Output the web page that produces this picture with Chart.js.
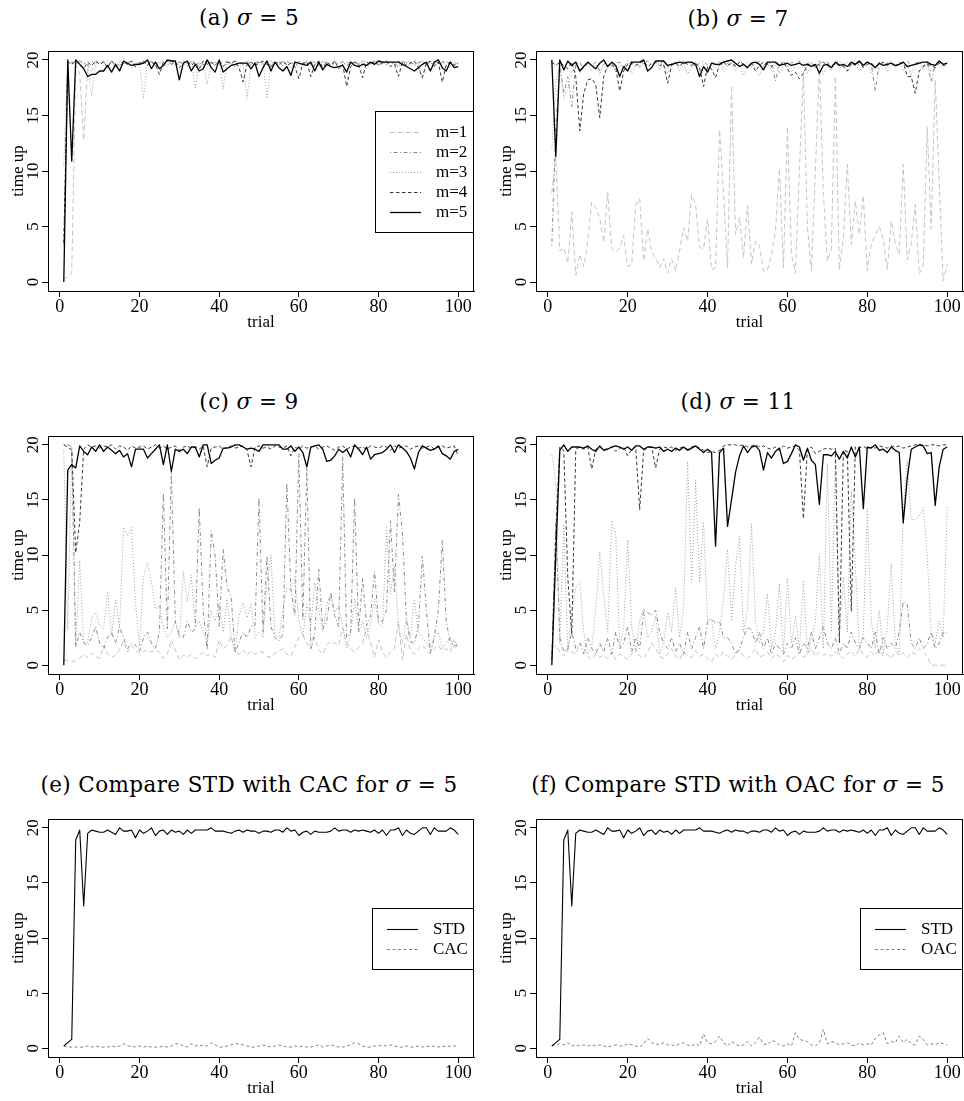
<!DOCTYPE html>
<html><head><meta charset="utf-8">
<script src="https://cdn.jsdelivr.net/npm/chart.js@4"></script>
<style>
html,body{margin:0;padding:0;background:#fff;width:964px;height:1101px;overflow:hidden;position:relative;}
canvas{position:absolute;}
.ttl{position:absolute;font-family:"DejaVu Serif",serif;font-size:21.5px;letter-spacing:0.4px;color:#000;white-space:nowrap;transform:translate(-50%,-50%);line-height:1;}
.ttl i{font-style:italic;}
</style></head><body>
<div class="ttl" style="left:249px;top:18px">(a) <i>σ</i> = 5</div>
<div class="ttl" style="left:738px;top:19px">(b) <i>σ</i> = 7</div>
<div class="ttl" style="left:249px;top:402px">(c) <i>σ</i> = 9</div>
<div class="ttl" style="left:738px;top:402px">(d) <i>σ</i> = 11</div>
<div class="ttl" style="left:249px;top:785px">(e) Compare STD with CAC for <i>σ</i> = 5</div>
<div class="ttl" style="left:738px;top:785px">(f) Compare STD with OAC for <i>σ</i> = 5</div>
<canvas id="ca" width="482" height="305" style="left:0;top:30px"></canvas>
<canvas id="cb" width="482" height="305" style="left:482px;top:30px"></canvas>
<canvas id="cc" width="482" height="303" style="left:0;top:415px"></canvas>
<canvas id="cd" width="482" height="303" style="left:482px;top:415px"></canvas>
<canvas id="ce" width="482" height="303" style="left:0;top:798px"></canvas>
<canvas id="cf" width="482" height="303" style="left:482px;top:798px"></canvas>
<script>
// ---------- data ----------
const trials = Array.from({length:100},(_,i)=>i+1);
const xTicks = [0,20,40,60,80,100];
const yTicks = [0,5,10,15,20];
const mLabels = ['m=1','m=2','m=3','m=4','m=5'];

// (a) sigma = 5
const a_m1 = [0.2,0.5,0.8,19.5,18.8,12.8,19.6,19.0,19.8,19.7,
 19.9,19.6,19.8,19.5,19.9,19.7,19.8,19.9,19.6,19.8,
 19.7,19.9,19.8,19.6,19.9,19.8,19.7,19.9,19.6,19.8,
 19.9,19.7,19.8,19.9,19.6,19.8,19.9,19.7,19.8,19.6,
 19.9,19.8,19.7,19.9,19.8,19.6,19.9,19.7,19.8,19.9,
 19.7,19.8,19.9,19.6,19.8,19.9,19.7,19.8,19.6,19.9,
 19.8,19.7,19.9,19.8,19.6,19.9,19.7,19.8,19.9,19.7,
 19.8,19.6,19.9,19.8,19.7,19.9,19.8,19.6,19.9,19.8,
 19.7,19.9,19.8,19.6,19.9,19.7,19.8,19.9,19.6,19.8,
 19.9,19.7,19.8,19.9,19.6,19.8,19.9,19.7,19.8,19.6];
const a_m2 = [3.3,19.5,19.8,19.6,19.9,19.7,19.5,19.8,19.9,19.6,
 19.8,19.4,19.9,19.7,19.5,19.8,19.6,19.9,19.3,19.7,
 19.8,19.6,19.9,19.4,19.7,19.8,19.5,19.9,19.6,19.8,
 19.7,19.4,19.9,19.6,19.8,19.5,19.9,19.7,19.6,19.8,
 19.5,19.9,19.7,19.4,19.8,19.6,19.9,19.5,19.7,19.8,
 19.6,19.9,19.4,19.7,19.8,19.5,19.9,19.6,19.8,19.3,
 19.7,19.9,19.6,19.8,19.5,19.9,19.7,19.4,19.8,19.6,
 19.9,19.5,19.7,19.8,19.6,19.9,19.4,19.7,19.8,19.5,
 19.9,19.6,19.8,19.7,19.4,19.9,19.6,19.8,19.5,19.7,
 19.9,19.6,19.8,19.4,19.7,19.9,19.5,19.8,19.6,19.7];
const a_m3 = [10.5,19.9,19.7,19.9,19.5,19.8,19.6,16.7,19.6,19.8,
 19.5,19.9,19.7,19.4,19.8,19.6,19.9,19.3,19.7,19.8,
 16.5,19.7,19.9,19.5,19.8,19.6,19.4,19.9,19.7,19.5,
 19.8,19.6,19.9,17.4,19.6,19.8,17.8,19.7,19.5,19.9,
 17.4,19.8,19.6,19.9,19.4,19.7,16.5,19.6,19.8,19.5,
 19.9,16.5,19.7,19.8,19.5,19.9,19.6,19.3,19.8,19.7,
 19.5,19.9,19.6,19.8,19.3,19.7,19.9,19.5,19.8,19.6,
 19.4,19.8,19.7,19.9,19.5,19.8,19.2,19.7,19.9,19.6,
 19.8,19.5,19.9,19.6,19.3,19.8,19.7,19.4,19.9,19.6,
 18.3,19.7,19.9,19.5,19.8,19.6,19.9,19.4,19.7,19.8];
const a_m4 = [3.5,19.8,19.6,19.9,19.7,19.2,19.8,19.5,19.9,19.6,
 19.8,19.3,19.9,19.5,19.0,19.8,19.6,19.9,19.4,19.7,
 19.9,19.5,19.8,19.6,18.7,19.8,19.9,19.6,19.8,19.3,
 19.7,19.9,19.5,19.8,19.2,19.9,19.6,19.8,19.5,19.9,
 19.4,19.8,19.7,19.9,19.3,18.0,19.6,19.8,19.5,19.7,
 19.9,19.6,19.4,19.8,19.6,19.9,19.5,19.7,19.4,18.3,
 19.7,19.8,18.5,19.6,19.9,19.3,19.8,19.5,19.9,19.2,
 19.6,17.6,19.4,19.8,19.5,18.4,19.8,19.6,19.9,19.5,
 19.7,19.9,19.4,19.6,18.5,19.8,19.5,19.7,19.9,19.3,
 18.4,19.7,19.9,19.5,19.8,18.0,19.6,19.8,19.5,19.7];
const a_m5 = [0,20,10.9,20,19.6,19.2,18.5,18.7,18.7,19.0,
 19.0,19.5,18.9,19.6,19.0,19.9,19.7,19.5,19.6,19.6,
 19.7,20.0,19.2,19.8,19.2,19.5,20.0,19.9,19.9,18.2,
 19.7,19.9,19.0,19.6,19.0,19.2,20.0,19.3,18.9,20.0,
 18.9,19.2,19.5,19.6,19.7,19.7,19.7,19.2,19.7,18.5,
 19.3,19.9,19.0,19.8,19.3,19.0,19.4,18.6,19.8,19.7,
 19.6,19.5,19.8,19.0,19.8,19.1,19.6,19.4,19.3,19.4,
 19.5,18.9,19.8,19.5,19.4,19.6,19.5,19.8,19.6,19.9,
 19.8,19.8,19.8,19.8,19.8,19.6,19.4,19.2,19.0,19.3,
 19.6,19.8,19.0,19.8,20.0,19.3,19.0,19.8,19.3,19.4];

// (b) sigma = 7
const b_m1 = [8.0,11.2,2.8,3.1,1.7,6.3,0.6,2.5,1.4,3.7,
 7.2,6.7,5.8,3.6,8.1,3.0,2.7,3.1,4.2,1.4,
 1.6,6.9,7.5,1.9,4.8,2.7,2.2,1.3,2.1,0.8,
 2.1,1.0,2.8,4.9,3.7,7.8,7.0,3.1,3.0,5.7,
 1.1,1.3,13.7,8.0,1.3,17.7,4.3,5.8,2.2,6.9,
 1.6,3.7,3.3,1.0,1.1,2.5,4.6,10.2,1.3,14.0,
 2.5,0.8,10.0,19.0,5.0,1.0,10.0,19.5,8.0,1.9,
 3.0,18.5,1.1,4.0,10.6,3.4,7.3,4.3,7.8,1.0,
 3.5,4.2,5.0,3.8,1.1,5.5,3.5,2.5,10.6,2.0,
 3.5,7.0,0.7,1.5,14.0,4.8,18.2,9.0,0.1,1.6];
const b_m2 = [3.3,14.0,19.5,17.0,18.5,15.8,19.6,19.8,19.2,19.7,
 19.5,19.8,19.0,19.6,19.9,19.4,19.7,19.8,19.3,19.9,
 19.6,19.8,19.4,19.7,19.9,19.5,19.8,19.6,19.9,19.3,
 19.7,19.8,19.5,19.9,19.6,19.8,19.4,19.7,19.9,19.5,
 19.8,19.6,19.9,19.3,19.7,19.8,19.5,19.9,19.6,19.8,
 19.4,19.7,19.9,19.5,19.8,19.6,18.1,19.7,19.9,19.4,
 19.8,19.6,19.9,19.5,19.7,19.8,19.3,19.9,19.6,19.8,
 19.5,19.7,19.9,19.4,19.8,19.6,19.9,19.5,19.7,19.8,
 19.6,17.2,19.8,19.5,19.7,19.9,19.4,19.8,19.6,19.9,
 19.5,19.7,19.8,19.4,19.9,18.0,19.6,19.8,19.5,19.7];
const b_m3 = [12.0,18.0,19.5,16.5,17.5,19.0,19.6,18.8,19.4,19.7,
 19.0,19.5,18.7,19.6,19.2,19.8,18.9,19.5,19.3,19.7,
 18.8,19.6,19.2,19.8,18.9,19.4,19.7,19.1,19.6,18.8,
 19.5,19.8,19.0,19.6,18.7,19.4,19.8,19.2,19.6,18.9,
 19.7,19.3,19.8,18.9,19.5,19.7,19.0,19.6,18.6,19.4,
 19.8,19.1,18.6,19.5,19.7,19.0,19.6,18.8,19.4,19.7,
 18.9,19.5,19.2,19.8,18.8,19.6,19.3,19.7,18.7,19.5,
 19.0,19.8,19.2,19.6,18.9,19.5,19.7,19.0,19.4,19.8,
 18.8,19.5,19.2,19.7,18.9,19.6,19.3,19.8,19.0,19.5,
 18.7,19.4,19.7,19.1,19.6,18.9,19.5,19.7,19.2,19.6];
const b_m4 = [19.8,19.5,19.8,19.5,19.2,19.8,18.5,13.6,17.0,18.2,
 18.3,17.8,14.8,18.5,19.5,19.6,19.3,17.2,19.0,19.6,
 19.8,19.5,19.7,19.9,19.4,19.7,19.8,19.5,19.6,17.9,
 19.5,19.7,19.4,19.8,19.6,19.5,19.7,19.3,17.6,19.4,
 19.2,18.4,19.6,19.8,19.5,19.7,19.4,19.8,19.6,19.3,
 19.7,19.0,19.5,19.8,19.6,19.4,19.7,19.5,19.8,19.2,
 18.6,18.9,18.3,18.8,19.5,19.7,19.4,19.6,19.8,19.5,
 19.3,19.7,19.6,19.4,19.0,19.7,19.5,19.8,19.3,19.6,
 19.7,19.4,19.6,19.8,19.5,19.7,19.4,19.6,19.8,18.5,
 18.5,17.0,19.0,19.4,19.6,19.5,19.3,19.7,19.5,19.6];
const b_m5 = [20.0,11.3,20.0,19.1,19.9,19.5,19.8,19.0,19.4,19.8,
 19.5,19.2,19.7,20.0,19.4,19.8,19.5,18.5,19.4,19.0,
 19.8,19.8,19.8,20.0,19.0,19.3,19.9,19.9,19.9,19.5,
 19.6,19.7,19.8,19.7,19.8,19.8,19.6,18.5,19.4,18.9,
 19.7,19.6,19.6,19.8,19.9,20.0,19.7,19.4,19.6,19.3,
 19.7,19.8,19.6,19.1,19.8,19.8,19.8,19.5,19.6,19.7,
 19.5,19.6,19.7,19.5,19.6,19.4,19.6,18.8,19.5,19.6,
 19.3,19.8,19.5,19.6,19.4,19.8,19.6,19.9,19.5,19.8,
 19.6,19.3,19.7,19.5,19.6,19.7,19.5,19.6,19.8,19.4,
 19.5,19.6,19.7,19.8,19.8,19.6,19.5,19.9,19.6,19.7];

// (c) sigma = 9
const c_m1 = [0.5,0.4,0.3,0.4,0.6,1.0,0.7,1.1,0.8,0.6,
 1.8,1.0,0.7,0.9,1.4,2.2,1.2,1.8,1.4,1.0,
 1.3,1.3,1.2,1.4,1.2,0.6,1.0,2.3,1.4,0.5,
 0.9,0.7,1.0,0.6,0.9,1.2,0.9,1.0,0.7,2.3,
 1.5,1.8,2.6,1.2,1.0,1.4,0.9,1.3,1.0,1.2,
 1.2,0.8,0.7,1.1,1.3,1.5,1.0,0.8,1.7,2.5,
 2.7,2.0,1.5,2.5,1.4,1.0,1.8,2.2,2.0,1.8,
 3.4,2.0,1.5,1.2,1.6,2.0,3.4,2.0,0.7,2.3,
 1.2,0.7,1.2,1.5,4.0,0.5,2.8,1.3,1.0,1.5,
 1.8,1.4,1.0,1.5,1.8,1.3,1.5,1.2,2.4,1.5];
const c_m2 = [20.0,20.0,19.8,1.7,3.0,2.0,1.8,2.5,3.5,2.0,
 1.5,2.5,3.0,2.0,3.5,2.5,1.5,2.0,1.8,1.2,
 2.5,3.0,2.0,1.5,3.0,15.6,3.3,17.7,3.9,2.7,
 2.5,4.0,3.0,3.3,14.3,5.0,1.4,12.2,9.9,3.5,
 10.5,7.0,6.3,1.1,2.1,3.0,2.5,3.5,3.6,15.2,
 3.0,9.9,3.5,2.5,2.2,2.8,16.5,6.9,4.5,19.2,
 4.1,18.0,1.5,3.0,8.7,3.3,4.0,6.6,4.5,3.5,
 18.9,2.5,3.0,15.2,3.0,7.9,3.6,4.5,8.5,3.9,
 4.0,5.0,13.1,6.6,15.5,12.0,4.1,2.1,2.0,3.5,
 9.9,5.0,1.1,2.5,5.0,11.3,4.0,2.0,1.8,1.7];
const c_m3 = [19.5,3.2,19.8,1.6,9.5,2.1,2.1,4.3,4.8,3.6,
 3.3,6.7,2.7,6.0,3.4,12.5,11.7,12.5,5.7,1.7,
 8.1,9.3,7.5,5.1,5.4,3.5,2.5,3.0,4.0,2.5,
 8.5,5.8,8.2,3.5,4.0,3.0,2.0,5.0,4.0,5.5,
 3.0,6.0,2.5,1.2,4.5,5.7,4.3,5.6,2.5,3.0,
 2.5,7.5,10.0,2.8,2.5,5.0,7.0,6.8,8.0,4.0,
 2.6,5.5,3.5,7.5,5.0,3.0,5.5,6.5,4.8,5.5,
 3.5,1.5,2.8,6.0,3.0,4.0,2.5,3.7,6.0,3.8,
 3.5,12.5,6.5,9.0,3.5,2.0,4.3,2.5,6.0,3.0,
 2.5,2.0,1.5,2.5,3.0,1.5,2.0,2.5,1.5,2.0];
const c_m4 = [20.0,19.8,19.5,10.2,13.0,19.6,20.0,19.8,19.9,19.7,
 19.9,19.8,20.0,19.6,19.9,19.8,19.5,19.9,19.7,19.8,
 19.9,19.6,19.8,20.0,19.7,19.9,19.6,19.8,19.9,19.5,
 19.8,19.9,19.7,19.8,19.6,19.9,18.0,19.7,19.8,19.9,
 19.6,19.8,19.9,19.7,19.8,19.9,19.5,18.0,19.8,19.9,
 19.7,19.8,19.6,19.9,19.8,19.7,19.9,19.0,19.8,19.6,
 19.9,19.7,19.8,19.9,19.6,19.8,19.9,19.7,19.5,19.8,
 19.9,19.6,19.8,19.9,19.7,19.8,19.6,19.9,19.8,19.7,
 19.9,19.8,19.5,19.9,19.7,19.8,19.9,19.6,19.8,19.9,
 19.7,19.8,19.9,19.6,19.8,19.9,19.7,19.8,19.9,19.0];
const c_m5 = [0,17.7,18.2,17.9,19.9,19.4,19.1,19.8,19.4,20.0,
 19.4,19.8,19.5,19.2,19.5,18.9,19.2,18.0,19.6,19.6,
 19.6,18.8,19.2,19.6,20.0,18.2,20.0,17.6,19.6,19.4,
 19.6,19.2,19.8,19.8,18.9,20.0,20.0,18.3,18.6,18.8,
 19.7,19.7,19.8,20.0,20.0,19.8,19.6,19.7,19.6,19.4,
 20.0,20.0,20.0,20.0,20.0,19.6,19.6,19.9,19.4,19.8,
 19.3,18.0,19.8,19.9,20.0,19.6,18.5,18.6,19.0,19.6,
 19.3,19.6,18.9,20.0,19.6,19.1,19.8,18.7,19.1,19.2,
 19.3,19.6,20.0,19.3,20.0,19.7,19.4,18.8,17.8,19.3,
 19.9,19.7,19.5,19.6,19.9,19.2,19.0,18.7,19.4,19.6];

// (d) sigma = 11
const d_m1 = [1.5,1.8,1.2,0.8,1.5,1.2,1.0,2.0,1.5,0.8,
 0.5,1.0,0.7,0.9,0.6,1.2,0.5,1.0,0.8,0.5,
 1.0,1.5,0.8,0.6,1.2,2.0,1.5,0.8,0.6,1.0,
 1.5,0.8,0.5,1.2,0.9,0.7,1.3,0.8,1.0,0.6,
 0.3,1.0,0.7,1.2,0.8,0.5,1.0,1.4,0.8,0.6,
 1.0,1.5,0.7,0.9,1.2,0.6,1.0,0.8,0.3,0.9,
 0.5,0.8,1.2,0.7,1.0,1.5,0.8,1.2,0.9,1.1,
 0.8,1.2,0.9,0.6,1.0,1.3,0.8,1.5,1.0,0.7,
 1.2,0.9,1.4,0.8,1.0,0.6,1.3,0.9,1.1,0.7,
 1.2,1.0,1.5,1.2,0.8,0.0,0.0,0.0,0.0,0.0];
const d_m2 = [0.5,13.0,2.5,1.2,1.5,3.0,1.5,2.0,1.0,2.5,
 1.5,1.0,2.0,1.2,2.5,1.0,3.0,1.5,2.0,3.5,
 1.2,2.5,1.5,5.0,4.8,4.5,5.0,3.0,2.0,1.5,
 2.5,1.2,2.0,1.0,3.0,1.5,2.5,3.5,1.5,4.0,
 4.2,3.8,4.0,2.5,2.5,2.0,1.0,1.5,2.5,3.5,
 3.2,2.0,3.0,1.5,2.5,1.0,2.0,1.5,1.0,2.0,
 1.5,2.5,1.0,2.0,1.5,3.0,1.5,2.5,3.5,2.0,
 1.5,2.5,1.0,2.0,1.5,3.0,2.0,1.5,2.5,2.0,
 1.5,3.0,1.0,2.5,1.5,2.0,1.5,3.0,5.8,5.5,
 2.0,1.5,2.5,1.5,2.0,3.0,1.5,2.0,3.0,3.0];
const d_m3 = [19.1,16.8,2.0,12.8,1.2,5.0,7.0,7.6,3.0,1.0,
 1.6,5.0,10.3,6.3,3.0,13.1,12.0,1.5,3.5,11.4,
 3.5,1.2,4.0,5.1,2.5,3.0,4.5,1.0,2.0,4.8,
 3.0,7.0,2.5,5.0,18.5,7.5,16.8,7.5,13.0,4.0,
 4.2,1.5,3.0,6.0,10.5,4.0,9.0,11.7,3.0,5.0,
 12.9,4.0,2.0,3.0,6.5,1.5,3.0,7.4,1.0,7.9,
 2.0,4.5,1.5,7.7,1.0,2.5,4.0,10.1,1.5,18.3,
 3.0,18.9,2.5,8.0,3.0,15.9,9.0,1.5,3.0,14.2,
 4.0,1.5,5.0,1.0,3.5,9.2,2.0,1.0,14.0,18.6,
 13.2,13.2,13.5,14.3,10.0,3.0,2.0,4.0,2.5,14.5];
const d_m4 = [0.5,12.0,19.8,19.5,8.0,2.8,19.6,19.8,19.6,19.8,
 17.8,19.6,19.8,19.5,19.7,19.8,19.4,19.7,19.8,19.0,
 19.6,19.8,14.1,19.5,19.7,19.8,17.9,19.6,19.8,19.7,
 19.8,19.5,19.7,19.8,19.6,19.8,19.9,19.7,19.5,19.3,
 19.4,19.3,19.5,19.9,20.0,20.0,20.0,19.9,20.0,19.8,
 19.9,20.0,19.8,19.9,19.7,19.6,19.8,19.5,19.9,19.7,
 19.8,19.9,19.5,13.3,19.6,19.8,19.2,19.4,19.6,19.7,
 19.6,19.7,2.0,19.5,19.4,4.9,19.8,19.7,19.9,19.6,
 19.8,19.7,19.9,19.8,19.7,19.9,19.8,19.9,19.7,19.8,
 19.9,20.0,20.0,20.0,19.9,20.0,20.0,19.9,20.0,20.0];
const d_m5 = [0,10.0,19.5,20.0,19.4,19.8,19.8,19.8,19.7,19.9,
 19.6,19.4,19.9,19.5,19.6,19.8,19.9,19.8,19.6,19.8,
 19.5,19.9,19.9,19.6,19.8,19.8,19.7,19.8,19.4,19.6,
 19.4,19.7,19.5,19.8,19.5,19.7,19.9,19.6,19.3,19.6,
 19.3,10.8,19.3,19.7,12.6,15.0,17.5,19.0,19.9,19.3,
 19.8,19.9,19.5,17.7,19.3,18.8,19.4,19.7,18.3,18.5,
 19.2,20.0,19.8,18.6,19.7,18.6,18.2,14.6,19.1,19.1,
 19.0,19.4,18.7,19.4,18.8,19.8,18.9,19.8,14.2,19.8,
 19.7,20.0,19.5,19.6,19.3,19.8,19.5,19.3,12.9,17.0,
 19.6,19.8,20.0,19.9,19.2,19.3,14.5,18.0,19.6,19.8];

// (e), (f) sigma = 5
const std5 = [0.2,0.5,0.8,18.9,19.8,12.9,19.5,19.8,19.7,19.6,
 19.6,19.8,19.6,19.4,20.0,19.7,19.7,19.8,19.1,19.8,
 19.5,19.7,20.0,19.3,19.7,19.8,19.4,19.8,19.6,19.7,
 19.4,19.8,19.5,19.8,19.8,19.8,19.8,20.0,19.7,19.7,
 19.7,19.6,19.5,19.7,19.8,19.6,19.8,19.7,19.7,19.5,
 19.7,19.7,19.6,19.8,19.8,19.6,20.0,19.7,19.8,19.3,
 19.6,19.7,19.4,19.7,19.6,19.6,19.6,19.7,20.0,19.7,
 19.8,19.8,19.6,19.8,19.7,19.8,19.7,19.6,19.8,19.5,
 19.8,19.3,19.8,19.8,20.0,19.3,19.8,19.5,19.4,19.7,
 20.0,20.0,19.4,20.0,19.7,19.7,19.7,20.0,19.8,19.4];
const cac5 = [0.2,0.1,0.1,0.1,0.1,0.1,0.2,0.1,0.2,0.1,
 0.1,0.1,0.2,0.1,0.2,0.4,0.2,0.2,0.1,0.2,
 0.1,0.2,0.1,0.1,0.1,0.2,0.1,0.2,0.4,0.4,
 0.2,0.1,0.4,0.2,0.3,0.2,0.2,0.5,0.3,0.1,
 0.1,0.2,0.3,0.4,0.4,0.3,0.2,0.1,0.1,0.2,
 0.3,0.2,0.1,0.2,0.3,0.2,0.1,0.1,0.2,0.1,
 0.2,0.1,0.1,0.2,0.3,0.1,0.2,0.3,0.2,0.1,
 0.1,0.2,0.3,0.5,0.4,0.2,0.1,0.1,0.2,0.2,
 0.3,0.2,0.3,0.2,0.1,0.1,0.2,0.1,0.1,0.2,
 0.1,0.2,0.1,0.2,0.1,0.2,0.1,0.2,0.2,0.2];
const oac5 = [0.2,0.3,0.4,0.3,0.5,0.2,0.3,0.2,0.3,0.2,
 0.3,0.2,0.3,0.2,0.1,0.2,0.3,0.2,0.2,0.4,
 0.3,0.2,0.1,0.4,0.9,0.5,0.4,0.3,0.5,0.3,
 0.3,0.2,0.4,0.5,0.3,0.2,0.4,0.2,1.3,0.5,
 0.4,0.6,1.1,0.5,0.2,0.6,0.4,0.2,0.3,0.6,
 0.2,0.5,1.0,0.4,0.3,0.7,0.6,0.3,0.2,0.4,
 0.2,1.4,0.8,0.7,0.6,0.3,0.2,0.5,1.7,0.4,
 0.6,0.5,0.3,0.4,0.5,0.3,0.2,0.5,0.3,0.4,
 0.3,0.9,1.2,1.4,0.4,0.6,0.5,1.1,0.5,0.8,
 0.4,0.3,1.1,0.8,0.3,0.4,0.3,0.5,0.4,0.3];

// ---------- styles ----------
const SERIF = '"Liberation Serif","Times New Roman",serif';
const mStyles = [
  {color:'#c4c4c4', dash:[5,3], width:1},
  {color:'#8a8a8a', dash:[1,2.5,4,2.5], width:1},
  {color:'#a0a0a0', dash:[1,2], width:1},
  {color:'#383838', dash:[3.5,2.5], width:1},
  {color:'#000000', dash:[], width:1.3}
];
const stdStyle = {color:'#000000', dash:[], width:1.1};
const cmpStyle = {color:'#808080', dash:[3,2.5], width:1};

function ds(label, vals, st, order){
  return {label, data: vals.map((v,i)=>({x:trials[i], y:v})),
    borderColor: st.color, borderWidth: st.width, borderDash: st.dash,
    pointRadius:0, tension:0, fill:false, borderJoinStyle:'round', borderCapStyle:'butt', order};
}
function mSets(arrs){ return arrs.map((a,i)=>ds(mLabels[i], a, mStyles[i], 5-i)); }

const boxPlugin = {
  id:'rbox',
  afterDraw(chart){
    const {ctx, chartArea:a} = chart;
    ctx.save();
    ctx.strokeStyle='#000'; ctx.lineWidth=1; ctx.setLineDash([]);
    const l=Math.round(a.left)+0.5, t=Math.round(a.top)+0.5, r=Math.round(a.right)-0.5, b=Math.round(a.bottom)+0.5;
    ctx.strokeRect(l, t, r-l, b-t);
    ctx.restore();
  }
};
const legendPlugin = {
  id:'rlegend',
  afterDraw(chart, args, opts){
    if(!opts || !opts.show) return;
    const {ctx, chartArea:a} = chart;
    const dsets = chart.data.datasets;
    ctx.save();
    ctx.font = '17px ' + SERIF;
    const tw = Math.max(...dsets.map(d=>ctx.measureText(d.label).width));
    const w = Math.round(60.5 + tw + 7);
    const h = 20*(dsets.length-1) + 41;
    const x1 = Math.round(a.right), x0 = x1 - w;
    const y0 = Math.round((a.top + a.bottom)/2 - h/2);
    ctx.fillStyle='#fff'; ctx.fillRect(x0, y0, w, h);
    ctx.strokeStyle='#000'; ctx.lineWidth=1; ctx.setLineDash([]);
    ctx.strokeRect(x0+0.5, y0+0.5, w-1, h);
    dsets.forEach((d,i)=>{
      const yy = Math.round(y0 + 20.5 + i*20) + 0.5;
      ctx.beginPath();
      ctx.strokeStyle = d.borderColor; ctx.lineWidth = d.borderWidth; ctx.setLineDash(d.borderDash||[]);
      ctx.moveTo(x0+15, yy); ctx.lineTo(x0+46, yy); ctx.stroke();
      ctx.setLineDash([]);
      ctx.fillStyle='#000'; ctx.textAlign='left'; ctx.textBaseline='middle';
      ctx.fillText(d.label, x0+61, yy);
    });
    ctx.restore();
  }
};

function makeChart(id, geom, datasets, showLegend){
  const cv = document.getElementById(id);
  return new Chart(cv, {
    type:'line',
    data:{datasets},
    options:{
      responsive:false, animation:false, devicePixelRatio:1,
      layout:{padding:{top:geom.top, right:geom.right, left:0, bottom:0}},
      plugins:{legend:{display:false}, tooltip:{enabled:false}, rlegend:{show:!!showLegend}},
      scales:{
        x:{type:'linear', min:-2.96, max:103.96,
          afterBuildTicks:s=>{ s.ticks = xTicks.map(v=>({value:v})); },
          afterFit:s=>{ s.height = 44; },
          grid:{drawOnChartArea:false, drawTicks:true, tickLength:6, tickColor:'#000', tickWidth:1},
          border:{display:true, color:'#000', width:1},
          ticks:{font:{family:SERIF, size:18}, color:'#000', padding:-1, maxRotation:0, autoSkip:false},
          title:{display:true, text:'trial', font:{family:SERIF, size:17}, color:'#000', padding:{top:0, bottom:2}}
        },
        y:{type:'linear', min:-0.8, max:20.8,
          afterBuildTicks:s=>{ s.ticks = yTicks.map(v=>({value:v})); },
          afterFit:s=>{ s.width = geom.left; },
          grid:{drawOnChartArea:false, drawTicks:true, tickLength:6, tickColor:'#000', tickWidth:1},
          border:{display:true, color:'#000', width:1},
          ticks:{font:{family:SERIF, size:17}, color:'#000', padding:0, minRotation:90, maxRotation:90, crossAlign:'center', autoSkip:false},
          title:{display:true, text:'time up', font:{family:SERIF, size:17}, color:'#000', padding:{top:geom.ytp, bottom:0}}
        }
      }
    },
    plugins:[boxPlugin, legendPlugin]
  });
}

makeChart('ca', {top:21, right:8, left:48, ytp:8}, mSets([a_m1,a_m2,a_m3,a_m4,a_m5]), true);
makeChart('cb', {top:21, right:1, left:54, ytp:14}, mSets([b_m1,b_m2,b_m3,b_m4,b_m5]), false);
makeChart('cc', {top:21, right:8, left:48, ytp:8}, mSets([c_m1,c_m2,c_m3,c_m4,c_m5]), false);
makeChart('cd', {top:21, right:1, left:54, ytp:14}, mSets([d_m1,d_m2,d_m3,d_m4,d_m5]), false);
makeChart('ce', {top:21, right:8, left:48, ytp:8}, [ds('STD', std5, stdStyle, 1), ds('CAC', cac5, cmpStyle, 2)], true);
makeChart('cf', {top:21, right:1, left:54, ytp:14}, [ds('STD', std5, stdStyle, 1), ds('OAC', oac5, cmpStyle, 2)], true);
</script>
</body></html>
